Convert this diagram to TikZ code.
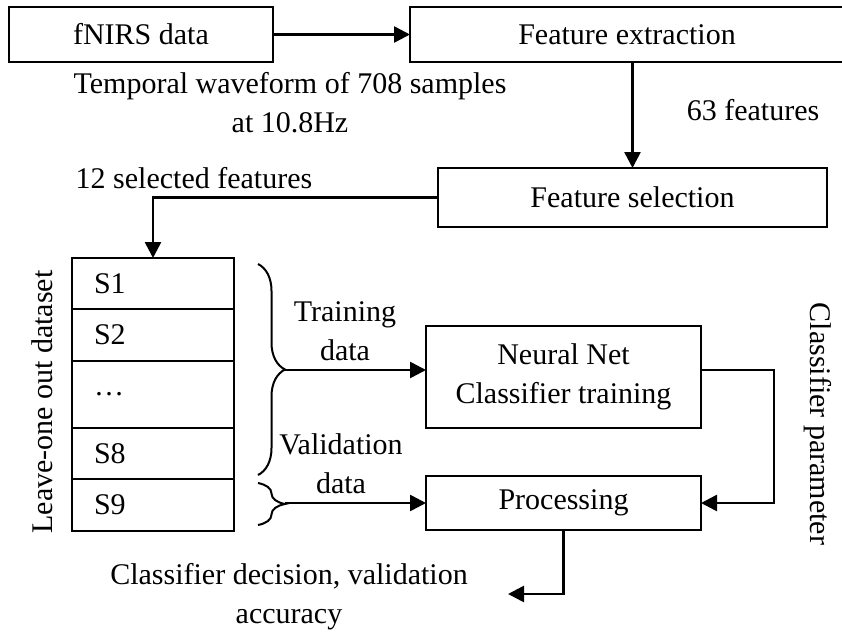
\documentclass[tikz,border=0pt]{standalone}
\usepackage{fontspec}
\setmainfont{Liberation Serif}
\usetikzlibrary{arrows.meta,positioning,decorations.pathreplacing}
\tikzset{
  stagebox/.style={draw, line width=2pt, outer sep=0pt, inner sep=0pt, align=center},
  setrow/.style={draw, line width=2pt, outer sep=0pt, minimum width=162pt,
    text width=118pt, inner xsep=22pt, inner ysep=0pt, align=left},
  flow/.style={line width=2.6pt, -{Triangle[length=16pt,width=16pt]}},
  grp/.style={decorate, decoration={brace, amplitude=27pt}, line width=2pt},
}

\begin{document}
\begin{tikzpicture}[x=1pt, y=-1pt, every node/.style={font=\fontsize{30}{39}\selectfont}]
        \useasboundingbox (0,0) rectangle (842,632);

        % pipeline boxes
        \node (fnirs) [stagebox, minimum width=264pt, minimum height=55pt] at (141,34.5) {fNIRS data};
        \node (fext) [stagebox, minimum width=434pt, minimum height=55pt] at (627,34.5) {Feature extraction};
        \node (fsel) [stagebox, minimum width=389pt, minimum height=59pt] at (632.5,197.5) {Feature selection};
        \node (nnet) [stagebox, minimum width=275pt, minimum height=102pt] at (563.5,377) {Neural Net\\Classifier training};
        \node (proc) [stagebox, minimum width=275pt, minimum height=54pt] at (563.5,503) {Processing};

        % leave-one out dataset
        \node (s1) [setrow, minimum height=51pt, anchor=north west] at (72,258) {S1};
        \node (s2) [setrow, minimum height=52pt, below=0pt of s1] {S2};
        \node (s3) [setrow, minimum height=67pt, below=0pt of s2] {\ldots};
        \node (s8) [setrow, minimum height=51pt, below=0pt of s3] {S8};
        \node (s9) [setrow, minimum height=52pt, below=0pt of s8] {S9};

        \draw [grp] (258,264) -- (258,475);
        \draw [grp] (258,483) -- (258,525);
        \coordinate (trtip) at (285,370);
        \coordinate (vatip) at (285,503);
        \coordinate (result) at (508,594);

        % labels
        \node (wave) [align=center, anchor=base] at (290,132) {Temporal waveform of 708 samples\\at 10.8Hz};
        \node (nfeat) [anchor=base] at (753,120) {63 features};
        \node (sfeat) [anchor=base] at (194,188) {12 selected features};
        \node (trlab) [align=center, anchor=base] at (345,360) {Training\\data};
        \node (valab) [align=center, anchor=base] at (341,493) {Validation\\data};
        \node (outlab) [align=center, anchor=base] at (289,623) {Classifier decision, validation\\accuracy};
        \node (loolab) [rotate=90] at (42,402) {Leave-one out dataset};
        \node (parlab) [rotate=-90] at (818,424) {Classifier parameter};

        % connectors
        \draw [flow] (fnirs) -- (fext);
        \draw [flow] (fsel.north |- fext.south) -- (fsel.north);
        \draw [flow] (fsel.west) -| (s1.north);
        \draw [flow] (trtip) -- (trtip -| nnet.west);
        \draw [flow] (vatip) -- (vatip -| proc.west);
        \draw [flow] (nnet.east |- trtip) -- ++(73,0) |- (proc.east);
        \draw [flow] (proc.south) |- (result);
    \end{tikzpicture}
\end{document}
